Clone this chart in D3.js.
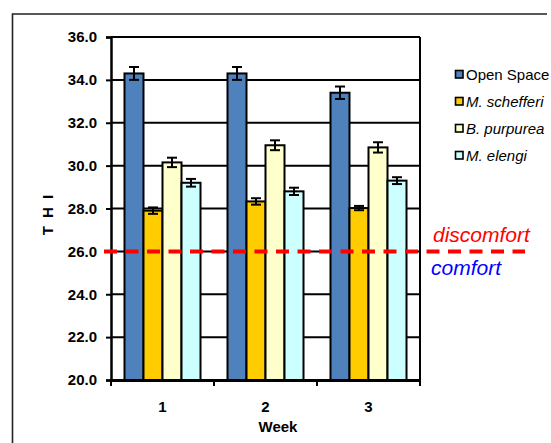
<!DOCTYPE html>
<html>
<head>
<meta charset="utf-8">
<script src="https://cdn.jsdelivr.net/npm/d3@7"></script>
<style>
  html, body { margin: 0; padding: 0; background: #fff; }
  svg { display: block; font-family: "Liberation Sans", Arial, sans-serif; }
</style>
</head>
<body>
<div id="chart"></div>
<script>
const weeks = ["1", "2", "3"];
const seriesNames = ["Open Space", "M. schefferi", "B. purpurea", "M. elengi"];
const openSpace = [34.3, 34.3, 33.4];
const openSpaceErr = [0.3, 0.3, 0.29];
const schefferi = [27.9, 28.33, 28.02];
const schefferiErr = [0.15, 0.15, 0.1];
const purpurea = [30.15, 30.95, 30.85];
const purpureaErr = [0.22, 0.23, 0.24];
const elengi = [29.2, 28.8, 29.3];
const elengiErr = [0.18, 0.17, 0.16];
const yTicks = [20, 22, 24, 26, 28, 30, 32, 34, 36];
const threshold = 26;

const colors = {
  "Open Space": "#4f81bd",
  "M. schefferi": "#ffcc00",
  "B. purpurea": "#ffffcc",
  "M. elengi": "#ccffff"
};

const seriesValues = [openSpace, schefferi, purpurea, elengi];
const seriesErrors = [openSpaceErr, schefferiErr, purpureaErr, elengiErr];

const rows = [];
weeks.forEach((week, wi) => {
  seriesNames.forEach((name, si) => {
    rows.push({ week, name, value: seriesValues[si][wi], err: seriesErrors[si][wi] });
  });
});

const width = 551;
const height = 443;
const plot = { left: 111, right: 420, top: 37, bottom: 380 };

const svg = d3.select("#chart")
  .append("svg")
  .attr("width", width)
  .attr("height", height);

// outer frame (only top and left edges visible)
svg.append("path")
  .attr("d", `M12.5,${height} V14 H547`)
  .attr("fill", "none")
  .attr("stroke", "#222")
  .attr("stroke-width", 1.6);

const x0 = d3.scaleBand()
  .domain(weeks)
  .range([plot.left, plot.right])
  .padding(0);

const x1 = d3.scaleBand()
  .domain(seriesNames)
  .range([0, x0.bandwidth()])
  .paddingInner(0)
  .paddingOuter(0.71);

const y = d3.scaleLinear()
  .domain([20, 36])
  .range([plot.bottom, plot.top]);

// gridlines
svg.append("g")
  .selectAll("line")
  .data(yTicks.filter((t) => t > 20))
  .join("line")
  .attr("x1", plot.left)
  .attr("x2", plot.right)
  .attr("y1", (d) => y(d))
  .attr("y2", (d) => y(d))
  .attr("stroke", "#000")
  .attr("stroke-width", 2);

// right edge of the plot area
svg.append("line")
  .attr("x1", plot.right)
  .attr("x2", plot.right)
  .attr("y1", plot.top)
  .attr("y2", plot.bottom)
  .attr("stroke", "#000")
  .attr("stroke-width", 2);

// bars
svg.append("g")
  .selectAll("rect")
  .data(rows)
  .join("rect")
  .attr("x", (d) => x0(d.week) + x1(d.name))
  .attr("y", (d) => y(d.value))
  .attr("width", x1.bandwidth())
  .attr("height", (d) => y(20) - y(d.value))
  .attr("fill", (d) => colors[d.name])
  .attr("stroke", "#000")
  .attr("stroke-width", 2);

// error bars
const capHalf = 5;
const errG = svg.append("g")
  .attr("stroke", "#000")
  .attr("stroke-width", 2);

rows.forEach((d) => {
  const cx = x0(d.week) + x1(d.name) + x1.bandwidth() / 2;
  errG.append("line")
    .attr("x1", cx).attr("x2", cx)
    .attr("y1", y(d.value + d.err)).attr("y2", y(d.value - d.err));
  [d.value + d.err, d.value - d.err].forEach((v) => {
    errG.append("line")
      .attr("x1", cx - capHalf).attr("x2", cx + capHalf)
      .attr("y1", y(v)).attr("y2", y(v));
  });
});

// y axis
const yAxis = svg.append("g")
  .attr("transform", `translate(${plot.left},0)`)
  .call(d3.axisLeft(y).tickValues(yTicks).tickSize(5).tickPadding(9).tickFormat(d3.format(".1f")));
yAxis.select(".domain").attr("stroke-width", 2.5);
yAxis.selectAll(".tick line").attr("stroke-width", 2);
yAxis.selectAll("text")
  .attr("font-family", "'Liberation Sans', Arial, sans-serif")
  .attr("font-size", 15)
  .attr("font-weight", "bold")
  .attr("fill", "#000");

// x axis
const xAxis = svg.append("g")
  .attr("transform", `translate(0,${plot.bottom})`)
  .call(d3.axisBottom(x0).tickSize(0).tickPadding(21));
xAxis.select(".domain").attr("stroke-width", 3);
xAxis.selectAll("text")
  .attr("font-family", "'Liberation Sans', Arial, sans-serif")
  .attr("font-size", 15)
  .attr("font-weight", "bold")
  .attr("fill", "#000");

// x tick marks at group boundaries
svg.append("g")
  .selectAll("line")
  .data(weeks.concat(["end"]))
  .join("line")
  .attr("x1", (d, i) => i < weeks.length ? x0(d) : x0(weeks[weeks.length - 1]) + x0.bandwidth())
  .attr("x2", (d, i) => i < weeks.length ? x0(d) : x0(weeks[weeks.length - 1]) + x0.bandwidth())
  .attr("y1", plot.bottom)
  .attr("y2", plot.bottom + 6)
  .attr("stroke", "#000")
  .attr("stroke-width", 2);

// axis titles
svg.append("text")
  .attr("x", 278)
  .attr("y", 432)
  .attr("text-anchor", "middle")
  .attr("font-size", 15)
  .attr("font-weight", "bold")
  .text("Week");

svg.append("text")
  .attr("transform", "translate(53,214) rotate(-90)")
  .attr("text-anchor", "middle")
  .attr("font-size", 15)
  .attr("font-weight", "bold")
  .attr("letter-spacing", 2)
  .text("T H I");

// comfort threshold
svg.append("line")
  .attr("x1", 104)
  .attr("x2", 525)
  .attr("y1", y(threshold))
  .attr("y2", y(threshold))
  .attr("stroke", "#ff0000")
  .attr("stroke-width", 4)
  .attr("stroke-dasharray", "13,8.5");

svg.append("text")
  .attr("x", 433)
  .attr("y", 242)
  .attr("font-size", 21)
  .attr("font-style", "italic")
  .attr("fill", "#ff0000")
  .text("discomfort");

svg.append("text")
  .attr("x", 431)
  .attr("y", 275)
  .attr("font-size", 21)
  .attr("font-style", "italic")
  .attr("fill", "#0000ff")
  .text("comfort");

// legend
const legend = svg.append("g")
  .selectAll("g")
  .data(seriesNames)
  .join("g")
  .attr("transform", (d, i) => `translate(455,${79.5 + i * 27})`);

legend.append("rect")
  .attr("x", 0.5)
  .attr("y", -9)
  .attr("width", 7.5)
  .attr("height", 7.5)
  .attr("fill", (d) => colors[d])
  .attr("stroke", "#000")
  .attr("stroke-width", 1.6);

legend.append("text")
  .attr("x", 11)
  .attr("y", 0)
  .attr("font-size", 15)
  .attr("font-style", (d, i) => i === 0 ? "normal" : "italic")
  .text((d) => d);
</script>
</body>
</html>
